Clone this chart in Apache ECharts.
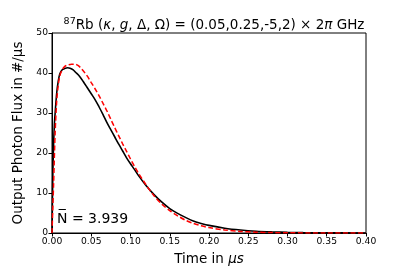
<!DOCTYPE html>
<html>
<head>
<meta charset="utf-8">
<script src="https://cdn.jsdelivr.net/npm/echarts@6/dist/echarts.min.js"></script>
<style>html,body{margin:0;padding:0;background:#fff}#c{width:407px;height:271px}</style>
</head>
<body>
<div id="c"></div>
<script>
const simTime = [0,0.001,0.002,0.003,0.004,0.006,0.008,0.010,0.013,0.016,0.020,0.023,0.027,0.030,0.035,0.040,0.045,0.050,0.055,0.060,0.065,0.070,0.075,0.080,0.085,0.090,0.095,0.100,0.105,0.110,0.120,0.130,0.140,0.150,0.160,0.170,0.180,0.190,0.200,0.220,0.240,0.260,0.280,0.300,0.320,0.350,0.400];
const simFlux = [0,14,22,27,30,35,38,39.8,40.8,41.1,41.3,41.2,40.8,40.2,39.2,37.8,36.3,34.8,33.3,31.5,29.6,27.6,25.8,24.0,22.2,20.5,18.8,17.3,15.9,14.4,11.8,9.6,7.7,6.1,4.9,3.9,3.0,2.4,1.9,1.2,0.75,0.45,0.28,0.17,0.1,0.05,0.01];
const modelTime = [0,0.002,0.004,0.006,0.008,0.010,0.013,0.016,0.020,0.025,0.029,0.033,0.037,0.040,0.045,0.050,0.055,0.060,0.065,0.070,0.075,0.080,0.085,0.090,0.095,0.100,0.105,0.110,0.120,0.130,0.140,0.150,0.160,0.170,0.180,0.190,0.200,0.220,0.240,0.260,0.280,0.300,0.350,0.400];
const modelFlux = [0,12,25,33,37,39.3,40.8,41.6,42.0,42.2,42.2,41.9,41.2,40.5,39.2,37.6,36.0,34.3,32.4,30.5,28.4,26.3,24.3,22.3,20.4,18.5,16.7,15.0,12.0,9.3,7.2,5.6,4.3,3.2,2.4,1.8,1.35,0.75,0.4,0.2,0.1,0.05,0.01,0];
const xTicks = {min:0, max:0.4, step:0.05};
const yTicks = {min:0, max:50, step:10};
const meanN = '3.939';

const zip = (a,b)=>a.map((v,i)=>[v,b[i]]);
const chart = echarts.init(document.getElementById('c'), null, {renderer:'canvas'});
const F = 'DejaVu Sans';
chart.setOption({
  animation:false,
  backgroundColor:'#fff',
  title:{
    text:'{sup|87}{n|Rb (}{i|κ}{n|, }{i|g}{n|, Δ, Ω) = (0.05,0.25,-5,2) × 2}{i|π}{n| GHz}',
    left:209, top:12, textAlign:'center',
    textStyle:{
      fontWeight:'normal',
      rich:{
        n:{fontFamily:F,fontSize:13.5,fontWeight:'normal',color:'#000'},
        i:{fontFamily:F,fontSize:13.5,fontWeight:'normal',fontStyle:'italic',color:'#000'},
        sup:{fontFamily:F,fontSize:9.5,fontWeight:'normal',color:'#000',verticalAlign:'top',padding:[0,0,6,0]}
      }
    }
  },
  grid:{left:52,right:41,top:33,bottom:34,show:true,borderColor:'#000',borderWidth:1,backgroundColor:'transparent'},
  xAxis:{
    type:'value',min:xTicks.min,max:xTicks.max,interval:xTicks.step,
    name:'{n|Time in }{i|μs}',nameLocation:'middle',nameGap:19,
    nameTextStyle:{rich:{n:{fontFamily:F,fontSize:13.5,color:'#000'},i:{fontFamily:F,fontSize:13.5,fontStyle:'italic',color:'#000'}}},
    axisLine:{lineStyle:{color:'#000',width:1}},
    axisTick:{show:true,inside:false,length:3.5,lineStyle:{color:'#000'}},
    axisLabel:{fontFamily:F,fontSize:9.2,color:'#000',margin:4,formatter:v=>v.toFixed(2)},
    splitLine:{show:false}
  },
  yAxis:{
    type:'value',min:yTicks.min,max:yTicks.max,interval:yTicks.step,
    name:'Output Photon Flux in #/μs',nameLocation:'middle',nameGap:26,
    nameTextStyle:{fontFamily:F,fontSize:13.5,color:'#000'},
    axisLine:{show:true,lineStyle:{color:'#000',width:1}},
    axisTick:{show:true,inside:false,length:3.5,lineStyle:{color:'#000'}},
    axisLabel:{fontFamily:F,fontSize:9.2,color:'#000',margin:4},
    splitLine:{show:false}
  },
  graphic:[{
    type:'text',left:57,top:212,
    style:{text:'N\u0305 = '+meanN,font:'14px "DejaVu Sans"',fill:'#000'}
  }],
  series:[
    {type:'line',data:zip(simTime,simFlux),smooth:0.3,showSymbol:false,lineStyle:{color:'#000',width:1.6},z:2},
    {type:'line',data:zip(modelTime,modelFlux),smooth:0.3,showSymbol:false,lineStyle:{color:'#ff0000',width:1.5,type:[5,2.5]},z:3}
  ]
});
</script>
</body>
</html>
